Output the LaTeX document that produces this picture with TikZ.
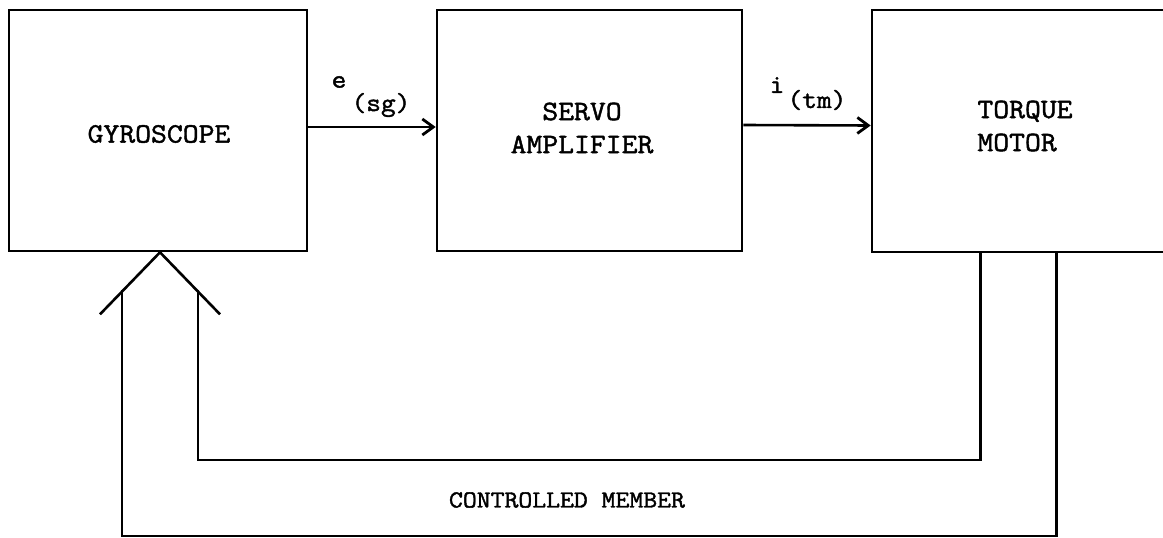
\documentclass[tikz,border=0pt]{standalone}
\usepackage{fontspec}
\newfontfamily\tw[FakeBold=1.6,FakeStretch=1.1]{Latin Modern Mono}
\usetikzlibrary{arrows.meta}
\begin{document}
\begin{tikzpicture}[x=1pt,y=-1pt,line width=2.6pt,
  blk/.style={draw, rectangle, inner sep=0pt, line width=2.6pt},
  txt/.style={font=\tw\fontsize{28}{33}\selectfont, inner sep=0pt},
  lbl/.style={font=\tw\fontsize{26}{30}\selectfont, inner sep=0pt},
  cml/.style={font=\tw\fontsize{24.5}{28}\selectfont, inner sep=0pt},
  arr/.style={-{Straight Barb[length=11pt,width=16pt,line width=2.8pt]}}]
\useasboundingbox (0,0) rectangle (1163,538);
\fill[white] (0,0) rectangle (1163,538);
\clip (0,0) rectangle (1163,538);
% blocks
\node[blk, minimum width=298pt, minimum height=241pt] (gyro) at (158,130.5) {};
\node[blk, minimum width=305pt, minimum height=241pt] (servo) at (589.5,130.5) {};
\node[blk, minimum width=308pt, minimum height=242pt] (torque) at (1026,131) {};
% texts
\node[txt] (gyrotxt) at (159,134) {GYROSCOPE};
\node[txt, align=center] (servotxt) at (582,128) {SERVO\\AMPLIFIER};
\node[txt, align=left] (torquetxt) at (1025,126) {TORQUE\\MOTOR};
\node[lbl] (e) at (339,82) {e};
\node[lbl] (sg) at (381,105) {(sg)};
\node[lbl] (i) at (777,85) {i};
\node[lbl] (tm) at (817,100) {(tm)};
\node[cml] (cm) at (567,500) {CONTROLLED MEMBER};
% forward arrows
\draw[arr] ([yshift=3.5pt]gyro.east) -- ([yshift=3.5pt]servo.west);
\draw[arr] ([yshift=5.5pt]servo.east) -- ([yshift=5.5pt]torque.west);
% inverted V under gyroscope
\coordinate (apex) at ([xshift=2pt]gyro.south);
\draw[line join=miter] (apex) ++(-60,62) -- (apex) -- ++(60,62);
% feedback lines
\coordinate (tin) at ([xshift=110pt]torque.south west);
\coordinate (tout) at ([xshift=186pt]torque.south west);
\coordinate (fbin) at (198,290.3);
\coordinate (fbout) at (122,290.3);
\draw (tin) |- (198,460) -- (fbin);
\draw (tout) |- (122,536) -- (fbout);
\end{tikzpicture}
\end{document}
